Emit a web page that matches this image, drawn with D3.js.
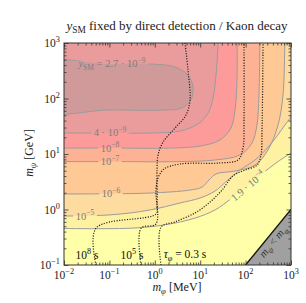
<!DOCTYPE html>
<html><head><meta charset="utf-8">
<script src="https://cdn.jsdelivr.net/npm/d3@7"></script>
<style>body{margin:0;background:#fff}svg{display:block}</style>
</head><body><svg id="c" width="306" height="303"></svg>
<script>
// ---------------- data (mφ in MeV, mψ in GeV) ----------------
const contourLevels = ["2.7e-9", "4e-9", "1e-8", "1e-7", "1e-6", "1e-5", "1.9e-4"];
// colour of the region enclosed (top-left side) by each contour
const bandColors = ["#d09a9b", "#ea9c9c", "#fd9b9b", "#feb295", "#fec995", "#fedb9e", "#fff1a2"];
const outerColor = "#fffea9";

const contour_2p7e9 = [[0.003,419],[0.1,419],[0.78,419],[2.79,370],[5.38,265],[6.93,161],[6.27,94],[3.97,67.5],[1.68,62.1],[0.1,62.1],[0.003,62.1]];
const contour_4e9   = [[0.003,23.9],[0.1,23.9],[0.78,23.9],[3.59,25.9],[8.95,34.8],[14.9,54.8],[19.2,102],[22.3,265],[24.7,1000],[24.7,1700]];
const contour_1e8   = [[0.003,12.8],[0.1,12.8],[2.16,12.8],[9.9,13.9],[27.3,17.9],[47.6,29.4],[58.5,62.1],[64.7,215],[64.7,1700]];
const contour_1e7   = [[0.003,7.3],[0.1,7.3],[3.59,7.3],[21.2,7.8],[75.3,9.6],[138,15.8],[178,33.3],[197,116],[207,1700]];
const contour_1e6   = [[0.003,1.9],[0.1,1.92],[0.78,1.98],[5.96,2.24],[11.0,2.54],[15.6,3.4],[22.3,4.37],[58.5,4.94],[161,6.3],[311,11.8],[518,33.3],[667,116],[738,1000],[776,1700]];
const contour_1e5   = [[0.003,0.76],[0.103,0.8],[0.78,0.98],[3.59,1.31],[9.9,1.61],[21.2,2.15],[40.9,3.4],[75.3,5.15],[161,7.8],[344,14.5],[738,33.3],[1578,76.4]];
const contour_1p9e4 = [[0.003,0.46],[0.284,0.46],[1.68,0.53],[7.67,0.70],[21.2,0.98],[50.1,1.61],[113,2.65],[230,4.37],[468,6.9],[1000,10.4],[1578,12.8]];
const contours = [contour_2p7e9, contour_4e9, contour_1e8, contour_1e7, contour_1e6, contour_1e5, contour_1p9e4];

// lifetime contours τφ
const lifetimeLabels = ["10^8 s", "10^5 s", "τφ = 0.3 s"];
const tau_1e8 = [[0.0507,0.1],[0.0507,0.46],[1.06,0.83],[1.12,1.21],[1.12,5.15],[1.18,9.6],[1.52,16.4],[2.79,29.4],[4.86,50.5],[5.96,94],[5.38,327],[4.62,1000]];
const tau_1e5 = [[0.497,0.1],[0.497,0.46],[1.06,0.55],[1.06,2.24],[1.18,3.7],[1.60,5.37],[3.59,6.6],[27.3,6.9],[68,7.8],[87.8,12.8],[92.2,41],[92.2,1000]];
const tau_0p3 = [[1.37,0.1],[1.37,0.48],[2.79,0.6],[7.67,0.865],[16.4,1.36],[30.2,2.24],[52.7,4.02],[97,5.15],[178,6.3],[218,9.6],[230,27],[242,1000]];
const lifetimes = [tau_1e8, tau_1e5, tau_0p3];

// kinematically forbidden region mψ < mφ (MeV vs GeV)
const forbidden = [[100,0.1],[1000,1],[1000,0.1]];

const xTicks = [0.01,0.1,1,10,100,1000];
const xTickExp = ["−2","−1","0","1","2","3"];
const yTicks = [0.1,1,10,100,1000];
const yTickExp = ["−1","0","1","2","3"];

// annotation anchors (data coords) and angles
const contourLabelAnchors = [[0.114,419],[0.103,23.9],[0.103,12.8],[0.103,7.3],[0.108,1.93],[0.029,0.76],[113,2.65]];
const contourLabelAngles = [0,0,0,0,0,0,-40];
const lifetimeLabelAnchors = [[0.032,0.151],[0.315,0.151],[4.62,0.156]];

// ---------------- drawing ----------------
const svg = d3.select("#c");
const FONT = '"Liberation Serif","DejaVu Serif",serif';
svg.style("font-family", FONT);
const M = {l:64, r:291, t:43, b:265};
const x = d3.scaleLog().domain([0.01,1000]).range([M.l,M.r]);
const y = d3.scaleLog().domain([0.1,1000]).range([M.b,M.t]);

function rich(sel, parts, fs){
  let shift = 0;
  parts.forEach(([t,k])=>{
    const sp = sel.append("tspan").text(t);
    let target = 0, size = fs;
    if (k.includes("sup")) { target = -fs*0.42; size = fs*0.72; }
    if (k.includes("sub")) { target = fs*0.25; size = fs*0.72; }
    sp.attr("dy", (target-shift).toFixed(2)).attr("font-size", size.toFixed(2));
    if (k.includes("it")) sp.attr("font-style","italic");
    shift = target;
  });
}

const defs = svg.append("defs");
defs.append("clipPath").attr("id","plot").append("rect")
  .attr("x",M.l).attr("y",M.t).attr("width",M.r-M.l).attr("height",M.b-M.t);
const mask = defs.append("mask").attr("id","gaps").attr("maskUnits","userSpaceOnUse")
  .attr("x",0).attr("y",0).attr("width",306).attr("height",303);
mask.append("rect").attr("width",306).attr("height",303).attr("fill","#fff");

const plot = svg.append("g").attr("clip-path","url(#plot)");
plot.append("rect").attr("x",M.l).attr("y",M.t).attr("width",M.r-M.l).attr("height",M.b-M.t).attr("fill",outerColor);

const line = d3.line().x(d=>x(d[0])).y(d=>y(d[1])).curve(d3.curveCatmullRom.alpha(0.5));
const closedLine = d3.line().x(d=>x(d[0])).y(d=>y(d[1])).curve(d3.curveCatmullRomClosed.alpha(0.5));

// fills: outermost first
for (let i = contours.length-1; i >= 1; i--) {
  const pts = contours[i];
  const last = pts[pts.length-1], first = pts[0];
  const d = line(pts) + `L${x(last[0])},${y(1e5)}L${x(1e-4)},${y(1e5)}L${x(1e-4)},${y(first[1])}Z`;
  plot.append("path").attr("d", d).attr("fill", bandColors[i]);
}
plot.append("path").attr("d", closedLine(contours[0])).attr("fill", bandColors[0]);

// contour lines (with gaps for labels)
const lines = plot.append("g").attr("mask","url(#gaps)");
contours.forEach((pts,i)=>{
  lines.append("path").attr("d", i===0 ? closedLine(pts) : line(pts))
    .attr("fill","none").attr("stroke","#9b9b9b").attr("stroke-width",1);
});

// forbidden triangle
plot.append("path").attr("d", d3.line().x(d=>x(d[0])).y(d=>y(d[1]))(forbidden)+"Z").attr("fill","#a0a0a0");
plot.append("path").attr("d", d3.line().x(d=>x(d[0])).y(d=>y(d[1]))(forbidden.slice(0,2)))
  .attr("stroke","#111").attr("stroke-width",1.3);

// lifetime dotted lines
const dotLine = d3.line().x(d=>x(d[0])).y(d=>y(d[1])).curve(d3.curveCatmullRom.alpha(0.5));
lifetimes.forEach(pts=>{
  plot.append("path").attr("d", dotLine(pts)).attr("fill","none")
    .attr("stroke","#1a1a1a").attr("stroke-width",1.2).attr("stroke-dasharray","1.1,1.5");
});

// contour labels
const contourLabelParts = [
  [["y","it"],["SM","sub"],[" = 2.7 · 10",""],["−9","sup"]],
  [["4 · 10",""],["−9","sup"]],
  [["10",""],["−8","sup"]],
  [["10",""],["−7","sup"]],
  [["10",""],["−6","sup"]],
  [["10",""],["−5","sup"]],
  [["1.9 · 10",""],["−4","sup"]]
];
const labelColors = ["#7d7d7d","#7d7d7d","#7d7d7d","#7d7d7d","#7d7d7d","#7d7d7d","#5f8080"];
contourLabelParts.forEach((parts,i)=>{
  const [a,b] = contourLabelAnchors[i];
  const tr = `translate(${x(a)},${y(b)}) rotate(${contourLabelAngles[i]})`;
  const g = svg.append("g").attr("transform", tr);
  const t = g.append("text").attr("text-anchor","middle").attr("y",3.5)
    .attr("fill",labelColors[i]).attr("font-size",10.5);
  rich(t, parts, 10.5);
  const bb = t.node().getBBox();
  mask.append("rect").attr("transform",tr)
    .attr("x",bb.x-2.5).attr("y",-3).attr("width",bb.width+5).attr("height",6).attr("fill","#000");
});

// lifetime labels
const lifetimeParts = [
  [["10",""],["8","sup"],[" s",""]],
  [["10",""],["5","sup"],[" s",""]],
  [["τ","it"],["φ","subit"],[" = 0.3 s",""]]
];
lifetimeParts.forEach((parts,i)=>{
  const [a,b] = lifetimeLabelAnchors[i];
  const t = svg.append("text").attr("x",x(a)).attr("y",y(b)+4).attr("text-anchor","middle")
    .attr("fill","#111").attr("font-size",11.5);
  rich(t, parts, 11.5);
});

// forbidden label
{
  const t = svg.append("text").attr("transform",`translate(${x(400)},${y(0.262)}) rotate(-50.7)`)
    .attr("text-anchor","middle").attr("y",3.5).attr("fill","#333").attr("font-size",11);
  rich(t, [["m","it"],["ψ","subit"],[" < ",""],["m","it"],["φ","subit"]], 11);
}

// axes: ticks inward on all sides
function minorTicks(lo, hi){ const r=[]; for(let e=lo;e<hi;e++) for(let k=2;k<=9;k++) r.push(k*Math.pow(10,e)); return r; }
const xMinor = minorTicks(-2,3), yMinor = minorTicks(-1,3);
function styleAxis(g){ g.select(".domain").remove(); g.selectAll("line").attr("stroke","#333").attr("stroke-width",0.8); g.selectAll("text").remove(); }
svg.append("g").attr("transform",`translate(0,${M.b})`).call(d3.axisBottom(x).tickValues(xTicks).tickSizeInner(-4.5).tickSizeOuter(0)).call(styleAxis);
svg.append("g").attr("transform",`translate(0,${M.b})`).call(d3.axisBottom(x).tickValues(xMinor).tickSizeInner(-2.5).tickSizeOuter(0)).call(styleAxis);
svg.append("g").attr("transform",`translate(0,${M.t})`).call(d3.axisTop(x).tickValues(xTicks).tickSizeInner(-4.5).tickSizeOuter(0)).call(styleAxis);
svg.append("g").attr("transform",`translate(0,${M.t})`).call(d3.axisTop(x).tickValues(xMinor).tickSizeInner(-2.5).tickSizeOuter(0)).call(styleAxis);
svg.append("g").attr("transform",`translate(${M.l},0)`).call(d3.axisLeft(y).tickValues(yTicks).tickSizeInner(-4.5).tickSizeOuter(0)).call(styleAxis);
svg.append("g").attr("transform",`translate(${M.l},0)`).call(d3.axisLeft(y).tickValues(yMinor).tickSizeInner(-2.5).tickSizeOuter(0)).call(styleAxis);
svg.append("g").attr("transform",`translate(${M.r},0)`).call(d3.axisRight(y).tickValues(yTicks).tickSizeInner(-4.5).tickSizeOuter(0)).call(styleAxis);
svg.append("g").attr("transform",`translate(${M.r},0)`).call(d3.axisRight(y).tickValues(yMinor).tickSizeInner(-2.5).tickSizeOuter(0)).call(styleAxis);

svg.append("rect").attr("x",M.l).attr("y",M.t).attr("width",M.r-M.l).attr("height",M.b-M.t)
  .attr("fill","none").attr("stroke","#333").attr("stroke-width",1);

// tick labels
xTicks.forEach((v,i)=>{
  const t = svg.append("text").attr("x",x(v)).attr("y",M.b+14).attr("text-anchor","middle").attr("fill","#222").attr("font-size",11.5);
  rich(t, [["10",""],[xTickExp[i],"sup"]], 11.5);
});
yTicks.forEach((v,i)=>{
  const t = svg.append("text").attr("x",M.l-4).attr("y",y(v)+4).attr("text-anchor","end").attr("fill","#222").attr("font-size",11.5);
  rich(t, [["10",""],[yTickExp[i],"sup"]], 11.5);
});

// axis titles
{
  const t = svg.append("text").attr("x",177).attr("y",291).attr("text-anchor","middle").attr("fill","#222").attr("font-size",12);
  rich(t, [["m","it"],["φ","subit"],[" [MeV]",""]], 12);
  const t2 = svg.append("text").attr("transform","translate(33,153) rotate(-90)").attr("text-anchor","middle").attr("fill","#222").attr("font-size",12);
  rich(t2, [["m","it"],["ψ","subit"],[" [GeV]",""]], 12);
  const t3 = svg.append("text").attr("x",177).attr("y",30).attr("text-anchor","middle").attr("fill","#222").attr("font-size",13);
  rich(t3, [["y","it"],["SM","sub"],[" fixed by direct detection / Kaon decay",""]], 13);
}
</script></body></html>
